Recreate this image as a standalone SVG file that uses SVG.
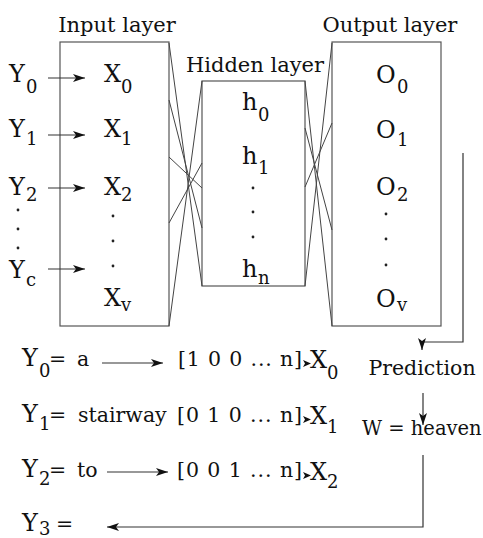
<svg xmlns="http://www.w3.org/2000/svg" width="483" height="538" viewBox="0 0 483 538">
<style>
text{font-family:"DejaVu Serif","Liberation Serif",serif;fill:#111}
.t{font-size:21px}
.v{font-size:24px}
.s{font-size:18px}
.b{font-size:20.5px}
.box{fill:none;stroke:#555;stroke-width:1.2}
.ln{fill:none;stroke:#444;stroke-width:1}
.ar{fill:none;stroke:#333;stroke-width:1.2;marker-end:url(#ah)}
.dot{fill:#222}
</style>
<defs>
<marker id="ah" markerUnits="userSpaceOnUse" viewBox="0 0 12 8" refX="12" refY="4" markerWidth="12" markerHeight="8" orient="auto">
<path d="M0,0 L12,4 L0,8 L3,4 z" fill="#111"/>
</marker>
</defs>

<g id="input-layer">
<rect class="box" x="60" y="42" width="109" height="284"/>
<text class="t" x="117" y="32" text-anchor="middle">Input layer</text>
<text class="v" x="104" y="82">X</text><text class="s" x="121" y="93">0</text>
<text class="v" x="104" y="137">X</text><text class="s" x="121" y="145">1</text>
<text class="v" x="104" y="195">X</text><text class="s" x="121" y="201">2</text>
<circle class="dot" cx="113" cy="216" r="1.4"/><circle class="dot" cx="113" cy="241" r="1.4"/><circle class="dot" cx="113" cy="266" r="1.4"/>
<text class="v" x="104" y="306">X</text><text class="s" x="121" y="311">v</text>
</g>

<g id="inputs">
<text class="v" x="9" y="82">Y</text><text class="s" x="26" y="93">0</text>
<text class="v" x="9" y="137">Y</text><text class="s" x="26" y="145">1</text>
<text class="v" x="9" y="195">Y</text><text class="s" x="26" y="201">2</text>
<circle class="dot" cx="18" cy="210" r="1.4"/><circle class="dot" cx="18" cy="229" r="1.4"/><circle class="dot" cx="18" cy="248" r="1.4"/>
<text class="v" x="9" y="278">Y</text><text class="s" x="26" y="286">c</text>
</g>

<g id="hidden-layer">
<rect class="box" x="202" y="81" width="103" height="205"/>
<text class="t" x="255" y="72" text-anchor="middle">Hidden layer</text>
<text class="v" x="242" y="110">h</text><text class="s" x="258" y="121">0</text>
<text class="v" x="242" y="164">h</text><text class="s" x="258" y="174">1</text>
<circle class="dot" cx="253" cy="188" r="1.4"/><circle class="dot" cx="253" cy="212" r="1.4"/><circle class="dot" cx="253" cy="237" r="1.4"/>
<text class="v" x="242" y="277">h</text><text class="s" x="258" y="284">n</text>
</g>

<g id="output-layer">
<rect class="box" x="332" y="42" width="109" height="284"/>
<text class="t" x="390" y="32" text-anchor="middle">Output layer</text>
<text class="v" x="376" y="83">O</text><text class="s" x="397" y="93">0</text>
<text class="v" x="376" y="138">O</text><text class="s" x="397" y="146">1</text>
<text class="v" x="376" y="195">O</text><text class="s" x="397" y="201">2</text>
<circle class="dot" cx="386" cy="214" r="1.4"/><circle class="dot" cx="386" cy="239" r="1.4"/><circle class="dot" cx="386" cy="265" r="1.4"/>
<text class="v" x="376" y="307">O</text><text class="s" x="397" y="311">v</text>
</g>

<g id="prediction">
<text class="b" x="422" y="375" text-anchor="middle">Prediction</text>
</g>
<g id="word">
<text x="362" y="435" style="font-size:19.5px">W = heaven</text>
</g>

<g id="row0">
<text class="v" x="22" y="366">Y</text><text class="s" x="39" y="377">0</text>
<text class="b" x="49" y="366">=</text><text class="b" x="77" y="366">a</text>
<text class="b" x="178" y="366" textLength="124" lengthAdjust="spacing">[1 0 0 ... n]</text>
<text class="v" x="310" y="368">X</text><text class="s" x="327" y="379">0</text>
</g>
<g id="row1">
<text class="v" x="22" y="422">Y</text><text class="s" x="39" y="430">1</text>
<text class="b" x="49" y="422">=</text><text class="b" x="78" y="422">stairway</text>
<text class="b" x="177" y="422" textLength="125" lengthAdjust="spacing">[0 1 0 ... n]</text>
<text class="v" x="310" y="424">X</text><text class="s" x="327" y="433">1</text>
</g>
<g id="row2">
<text class="v" x="22" y="477">Y</text><text class="s" x="39" y="485">2</text>
<text class="b" x="49" y="477">=</text><text class="b" x="77" y="477">to</text>
<text class="b" x="177" y="477" textLength="125" lengthAdjust="spacing">[0 0 1 ... n]</text>
<text class="v" x="310" y="480">X</text><text class="s" x="327" y="488">2</text>
</g>
<g id="row3">
<text class="v" x="22" y="531">Y</text><text class="s" x="39" y="535">3</text>
<text class="b" x="56" y="531">=</text>
</g>

<g id="connectors">
<line class="ln" x1="169" y1="43" x2="202" y2="286"/>
<line class="ln" x1="169" y1="100" x2="202" y2="228"/>
<line class="ln" x1="169" y1="157" x2="202" y2="188"/>
<line class="ln" x1="169" y1="223" x2="202" y2="163"/>
<line class="ln" x1="169" y1="326" x2="202" y2="81"/>
<line class="ln" x1="305" y1="81" x2="332" y2="326"/>
<line class="ln" x1="305" y1="128" x2="332" y2="230"/>
<line class="ln" x1="305" y1="187" x2="332" y2="123"/>
<line class="ln" x1="305" y1="286" x2="332" y2="43"/>
<line class="ar" x1="48" y1="78" x2="85" y2="78"/>
<line class="ar" x1="48" y1="135" x2="85" y2="135"/>
<line class="ar" x1="48" y1="188" x2="85" y2="188"/>
<line class="ar" x1="48" y1="269" x2="85" y2="269"/>
<line class="ar" x1="102" y1="363" x2="163" y2="363"/>
<line class="ar" x1="107" y1="472" x2="168" y2="472"/>
<path d="M303,360 L311,363.5 L303,367 L305,363.5 z" fill="#111"/>
<path d="M303,416 L311,419.5 L303,423 L305,419.5 z" fill="#111"/>
<path d="M303,472 L311,475.5 L303,479 L305,475.5 z" fill="#111"/>
<path class="ar" d="M463,153 V342 H422 V350"/>
<line class="ar" x1="423" y1="393" x2="423" y2="425"/>
<path class="ar" d="M423,455 V527 H107"/>
</g>
</svg>
